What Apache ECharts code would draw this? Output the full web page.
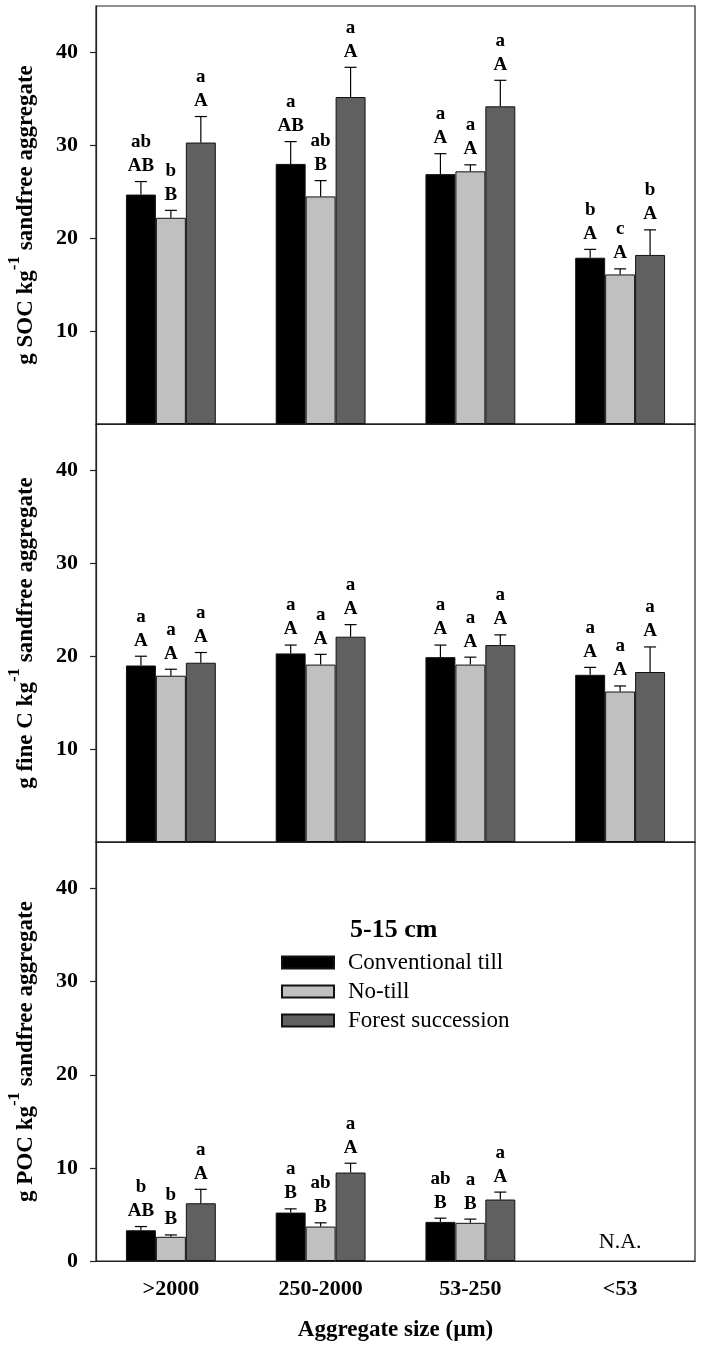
<!DOCTYPE html>
<html>
<head>
<meta charset="utf-8">
<script src="https://cdn.jsdelivr.net/npm/echarts@6/dist/echarts.min.js"></script>
<style>html,body{margin:0;padding:0;background:#fff}#c{width:702px;height:1348px}</style>
</head>
<body>
<div id="c"></div>
<script>
// ---- data ----
const categories = ['>2000', '250-2000', '53-250', '<53'];
const treatments = ['Conventional till', 'No-till', 'Forest succession'];
const colors = ['#000000', '#c0c0c0', '#606060'];
const yTicksTop = [10, 20, 30, 40];
const yTicksBottom = [0, 10, 20, 30, 40];

// Panel 1: SOC
const socCT = [24.7, 28.0, 26.9, 17.9];
const socNT = [22.2, 24.5, 27.2, 16.1];
const socFS = [30.3, 35.2, 34.2, 18.2];
const socErrCT = [1.4, 2.4, 2.2, 0.9];
const socErrNT = [0.8, 1.7, 0.7, 0.6];
const socErrFS = [2.8, 3.2, 2.8, 2.7];
const socLowCT = ['ab', 'a', 'a', 'b'];
const socLowNT = ['b', 'ab', 'a', 'c'];
const socLowFS = ['a', 'a', 'a', 'b'];
const socUpCT = ['AB', 'AB', 'A', 'A'];
const socUpNT = ['B', 'B', 'A', 'A'];
const socUpFS = ['A', 'A', 'A', 'A'];

// Panel 2: fine C
const fineCT = [19.0, 20.3, 19.9, 18.0];
const fineNT = [17.9, 19.1, 19.1, 16.2];
const fineFS = [19.3, 22.1, 21.2, 18.3];
const fineErrCT = [1.0, 0.9, 1.3, 0.8];
const fineErrNT = [0.7, 1.1, 0.8, 0.6];
const fineErrFS = [1.1, 1.3, 1.1, 2.7];
const fineLow = ['a', 'a', 'a', 'a'];
const fineUp = ['A', 'A', 'A', 'A'];

// Panel 3: POC
const pocCT = [3.3, 5.2, 4.2, null];
const pocNT = [2.6, 3.7, 4.1, null];
const pocFS = [6.2, 9.5, 6.6, null];
const pocErrCT = [0.4, 0.4, 0.4, null];
const pocErrNT = [0.2, 0.4, 0.4, null];
const pocErrFS = [1.5, 1.0, 0.8, null];
const pocLowCT = ['b', 'a', 'ab'];
const pocLowNT = ['b', 'ab', 'a'];
const pocLowFS = ['a', 'a', 'a'];
const pocUpCT = ['AB', 'B', 'B'];
const pocUpNT = ['B', 'B', 'B'];
const pocUpFS = ['A', 'A', 'A'];
const naCategory = 3;
const naText = 'N.A.';

const yTitles = [
  '{m|g SOC kg}{s|-1}{m| sandfree aggregate}',
  '{m|g fine C kg}{s|-1}{m| sandfree aggregate}',
  '{m|g POC kg}{s|-1}{m| sandfree aggregate}'
];
const xTitle = 'Aggregate size (\u00b5m)';
const legendTitle = '5-15 cm';

// ---- build ----
const FONT = "'Liberation Serif', 'Times New Roman', serif";
const panels = [
  {means: [socCT, socNT, socFS], errs: [socErrCT, socErrNT, socErrFS], low: [socLowCT, socLowNT, socLowFS], up: [socUpCT, socUpNT, socUpFS]},
  {means: [fineCT, fineNT, fineFS], errs: [fineErrCT, fineErrNT, fineErrFS], low: [fineLow, fineLow, fineLow], up: [fineUp, fineUp, fineUp]},
  {means: [pocCT, pocNT, pocFS], errs: [pocErrCT, pocErrNT, pocErrFS], low: [pocLowCT, pocLowNT, pocLowFS], up: [pocUpCT, pocUpNT, pocUpFS]}
];

const grids = [
  {left: 96, top: 6, width: 599, height: 418},
  {left: 96, top: 424, width: 599, height: 418},
  {left: 96, top: 842, width: 599, height: 419}
].map(g => Object.assign(g, {show: true, borderColor: '#222', borderWidth: 1.2, backgroundColor: 'transparent', containLabel: false, outerBoundsMode: 'none'}));

const xAxes = [], yAxes = [], series = [];
panels.forEach((p, gi) => {
  const isBottom = gi === 2;
  xAxes.push({
    type: 'category', gridIndex: gi, data: categories,
    axisLine: {show: true, lineStyle: {color: '#222', width: 1.2}},
    axisTick: {show: false},
    axisLabel: {show: isBottom, margin: 17, fontFamily: FONT, fontSize: 22, fontWeight: 'bold', color: '#000'},
    name: isBottom ? xTitle : '', nameLocation: 'middle', nameGap: 58,
    nameTextStyle: {fontFamily: FONT, fontSize: 23, fontWeight: 'bold', color: '#000'}
  });
  const ticks = isBottom ? yTicksBottom : yTicksTop;
  yAxes.push({
    type: 'value', gridIndex: gi, min: 0, max: 45, interval: 10,
    splitLine: {show: false},
    axisLine: {show: true, lineStyle: {color: '#222', width: 1.2}},
    axisTick: {show: true, length: 6, customValues: ticks, lineStyle: {color: '#222', width: 1.2}},
    axisLabel: {customValues: ticks, margin: 18, fontFamily: FONT, fontSize: 22, fontWeight: 'bold', color: '#000'},
    name: yTitles[gi], nameLocation: 'middle', nameGap: 58, nameRotate: 90,
    nameTextStyle: {
      rich: {
        m: {fontFamily: FONT, fontSize: 23, fontWeight: 'bold', color: '#000', lineHeight: 32, verticalAlign: 'bottom'},
        s: {fontFamily: FONT, fontSize: 17, fontWeight: 'bold', color: '#000', lineHeight: 32, verticalAlign: 'top'}
      }
    }
  });
  p.means.forEach((vals, k) => {
    series.push({
      type: 'bar', name: treatments[k], xAxisIndex: gi, yAxisIndex: gi,
      data: vals.map(v => v == null ? '-' : v),
      barGap: '0%', barCategoryGap: '40%',
      itemStyle: {color: colors[k], borderColor: '#111', borderWidth: 1},
      emphasis: {disabled: true}, z: 2
    });
  });
  p.means.forEach((vals, k) => {
    const errs = p.errs[k], lows = p.low[k], ups = p.up[k];
    const data = [];
    vals.forEach((v, ci) => { if (v != null) data.push([ci, v, errs[ci]]); });
    series.push({
      type: 'custom', name: 'err' + gi + '_' + k, xAxisIndex: gi, yAxisIndex: gi, z: 5,
      data: data,
      renderItem: function (params, api) {
        const ci = api.value(0), v = api.value(1), e = api.value(2);
        const band = api.size([1, 0])[0];
        const off = (k - 1) * band * 0.2;
        const p0 = api.coord([ci, v]);
        const p1 = api.coord([ci, v + e]);
        const x = p0[0] + off;
        const lineStyle = {stroke: '#000', lineWidth: 1.2};
        return {
          type: 'group',
          children: [
            {type: 'line', shape: {x1: x, y1: p0[1], x2: x, y2: p1[1]}, style: lineStyle},
            {type: 'line', shape: {x1: x - 6, y1: p1[1], x2: x + 6, y2: p1[1]}, style: lineStyle},
            {type: 'text', style: {text: ups[ci], x: x, y: p1[1] - 6, align: 'center', verticalAlign: 'bottom', font: 'bold 19px ' + FONT, fill: '#000'}},
            {type: 'text', style: {text: lows[ci], x: x, y: p1[1] - 30, align: 'center', verticalAlign: 'bottom', font: 'bold 19px ' + FONT, fill: '#000'}}
          ]
        };
      }
    });
  });
});

series.push({
  type: 'custom', name: 'na', xAxisIndex: 2, yAxisIndex: 2, z: 5,
  data: [[naCategory, 0]],
  renderItem: function (params, api) {
    const pt = api.coord([api.value(0), api.value(1)]);
    return {type: 'text', style: {text: naText, x: pt[0], y: pt[1] - 8, align: 'center', verticalAlign: 'bottom', font: '22px ' + FONT, fill: '#000'}};
  }
});

const option = {
  animation: false,
  backgroundColor: '#fff',
  title: {text: legendTitle, left: 350, top: 917, padding: 0,
    textStyle: {fontFamily: FONT, fontSize: 26, fontWeight: 'bold', color: '#000'}},
  legend: {
    orient: 'vertical', left: 281, top: 951, padding: 0,
    itemWidth: 52, itemHeight: 12, itemGap: 6, icon: 'rect',
    data: treatments, selectedMode: false,
    textStyle: {fontFamily: FONT, fontSize: 23, color: '#000', padding: [0, 0, 0, 9]}
  },
  grid: grids,
  xAxis: xAxes,
  yAxis: yAxes,
  series: series
};

const chart = echarts.init(document.getElementById('c'), null, {renderer: 'canvas'});
chart.setOption(option);
</script>
</body>
</html>
